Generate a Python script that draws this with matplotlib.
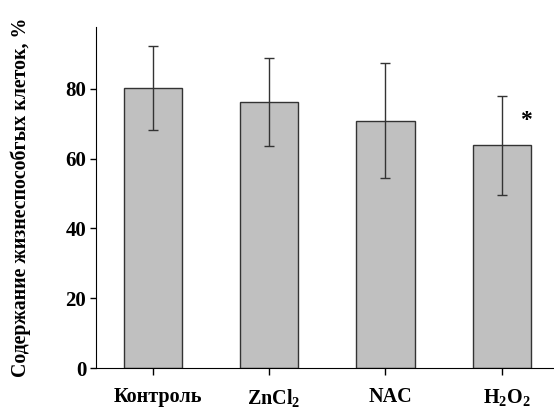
import matplotlib
matplotlib.use("Agg")
import matplotlib.pyplot as plt
from matplotlib.transforms import ScaledTranslation

# --- Data --------------------------------------------------------------------
groups = ["Контроль", r"$\mathrm{ZnCl_2}$", "NAC", r"$\mathrm{H_2O_2}$"]
viable = [80.3, 76.1, 70.9, 63.8]       # % viable cells
errors = [12.0, 12.6, 16.6, 14.2]       # symmetric error
significant = [False, False, False, True]
y_ticks = [0, 20, 40, 60, 80]

# --- Style -------------------------------------------------------------------
plt.rcParams["font.family"] = "Liberation Serif"
plt.rcParams["font.weight"] = "bold"
plt.rcParams["axes.labelweight"] = "bold"
plt.rcParams["mathtext.fontset"] = "custom"
plt.rcParams["mathtext.rm"] = "Liberation Serif:bold"
plt.rcParams["mathtext.it"] = "Liberation Serif:bold"
plt.rcParams["mathtext.bf"] = "Liberation Serif:bold"

fig = plt.figure(figsize=(5.54, 4.11), dpi=100)
ax = fig.add_axes([96 / 554, 1 - 368 / 411, 458 / 554, 341 / 411])

x = range(len(groups))
ax.bar(x, viable, width=0.5, color="#c0c0c0", edgecolor="#333333",
       linewidth=1.0, zorder=2)
ax.errorbar(x, viable, yerr=errors, fmt="none", ecolor="#333333",
            elinewidth=1.0, capsize=3.5, capthick=1.0, zorder=3)

# significance mark, just right of the error bar
for i, flag in enumerate(significant):
    if flag:
        ax.text(i + 0.21, viable[i] + 7, "*", ha="center",
                va="center", fontsize=17)

ax.set_xlim(-0.49, 3.45)
ax.set_ylim(0, 97.7)
ax.set_xticks(list(x))
ax.set_xticklabels(groups, fontsize=14.5)
ax.set_yticks(y_ticks)
ax.tick_params(axis="y", labelsize=15, length=4, width=1, pad=3)
ax.tick_params(axis="x", length=5, width=1, pad=9)
ax.spines["top"].set_visible(False)
ax.spines["right"].set_visible(False)

# category labels sit a little right of their ticks in the original
shift = ScaledTranslation(5 / 100, 0, fig.dpi_scale_trans)
for lbl in ax.get_xticklabels():
    lbl.set_transform(lbl.get_transform() + shift)

ax.set_ylabel("Содержание жизнеспособгых клеток, %", fontsize=14.3)
ax.yaxis.set_label_coords(-(96 - 31) / 458, 0.5)

fig.savefig("out.png", dpi=100)
